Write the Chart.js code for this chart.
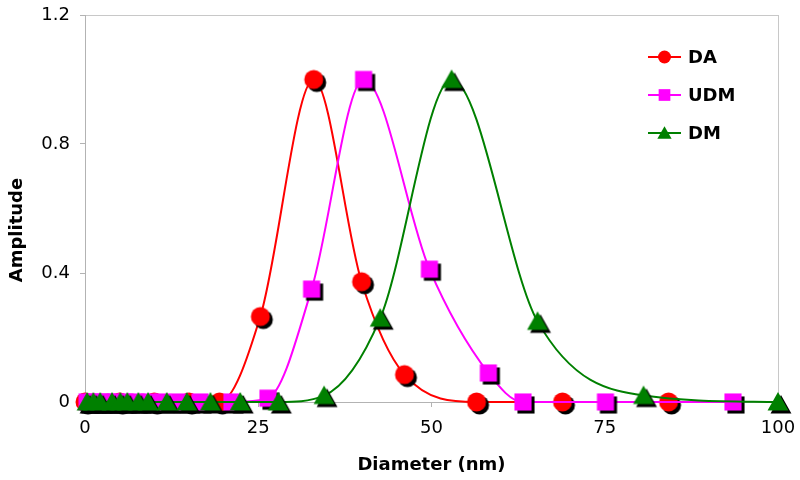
<!DOCTYPE html>
<html>
<head>
<meta charset="utf-8">
<script src="https://cdn.jsdelivr.net/npm/chart.js@4/dist/chart.umd.min.js"></script>
<style>
    html, body { margin: 0; padding: 0; background: #fff; }
    #wrap { width: 800px; height: 480px; }
</style>
</head>
<body>
<div id="wrap"><canvas id="sizeChart" width="800" height="480"></canvas></div>
<script>
// diameters (nm) and amplitudes
const diaDA = [0, 5, 10, 15, 19.4, 25.3, 33.0, 39.9, 46.1, 56.5, 68.9, 84.2];
const ampDA = [0, 0, 0, 0, 0, 0.265, 1.0, 0.373, 0.085, 0, 0, 0];

const diaUDM = [0.3, 1.2, 2.2, 3.2, 4.4, 5.8, 7.4, 9.2, 11.2, 13.6, 16.6, 21.2, 26.4, 32.7, 40.2, 49.7, 58.2, 63.2, 75.1, 93.5];
const ampUDM = [0, 0, 0, 0, 0, 0, 0, 0, 0, 0, 0, 0, 0.012, 0.35, 1.0, 0.412, 0.09, 0, 0, 0];

const diaDM = [0.3, 1.2, 2.2, 3.9, 5.1, 6.1, 7.7, 9.1, 11.8, 14.7, 18.1, 22.4, 27.9, 34.5, 42.6, 52.9, 65.3, 80.6, 100];
const ampDM = [0, 0, 0, 0, 0, 0, 0, 0, 0, 0, 0, 0, 0, 0.02, 0.26, 1.0, 0.25, 0.02, 0];

const xTicks = [0, 25, 50, 75, 100];
const yTicks = [0, 0.4, 0.8, 1.2];

const seriesNames = ['DA', 'UDM', 'DM'];
const seriesColors = ['#ff0000', '#ff00ff', '#008000'];
const seriesShapes = ['circle', 'rect', 'triangle'];

function toPoints(xs, ys) {
    return xs.map((x, i) => ({ x: x, y: ys[i] }));
}

function shapePath(ctx, shape, cx, cy, s) {
    ctx.beginPath();
    if (shape === 'circle') {
        ctx.arc(cx, cy, s, 0, Math.PI * 2);
    } else if (shape === 'rect') {
        ctx.rect(cx - s * 0.9, cy - s * 0.9, s * 1.8, s * 1.8);
    } else {
        ctx.moveTo(cx, cy - s * 1.05);
        ctx.lineTo(cx + s * 1.1, cy + s * 0.9);
        ctx.lineTo(cx - s * 1.1, cy + s * 0.9);
        ctx.closePath();
    }
}

// marker image with the black drop shadow
function makeMarker(shape, color) {
    const c = document.createElement('canvas');
    c.width = 30;
    c.height = 30;
    const g = c.getContext('2d');
    shapePath(g, shape, 18, 18, 9.5);
    g.fillStyle = '#000';
    g.fill();
    shapePath(g, shape, 15, 15, 9.5);
    g.fillStyle = color;
    g.fill();
    return c;
}

const legendPlugin = {
    id: 'sideLegend',
    afterDraw(chart) {
        const ctx = chart.ctx;
        const ys = [57, 95, 133];
        ctx.save();
        seriesNames.forEach((name, i) => {
            ctx.strokeStyle = seriesColors[i];
            ctx.lineWidth = 2;
            ctx.beginPath();
            ctx.moveTo(648, ys[i]);
            ctx.lineTo(681, ys[i]);
            ctx.stroke();
            shapePath(ctx, seriesShapes[i], 664.5, ys[i], 6.5);
            ctx.fillStyle = seriesColors[i];
            ctx.fill();
            ctx.fillStyle = '#000';
            ctx.font = 'bold 18px "DejaVu Sans"';
            ctx.textAlign = 'left';
            ctx.textBaseline = 'middle';
            ctx.fillText(name, 688, ys[i] + 1);
        });
        // y axis title
        ctx.translate(17, 230);
        ctx.rotate(-Math.PI / 2);
        ctx.textAlign = 'center';
        ctx.fillText('Amplitude', 0, 0);
        ctx.restore();
    }
};

const ctx = document.getElementById('sizeChart').getContext('2d');
const allX = [diaDA, diaUDM, diaDM];
const allY = [ampDA, ampUDM, ampDM];

const sizeChart = new Chart(ctx, {
    type: 'line',
    data: {
        datasets: seriesNames.map((name, i) => ({
            label: name,
            data: toPoints(allX[i], allY[i]),
            borderColor: seriesColors[i],
            backgroundColor: seriesColors[i],
            borderWidth: 2,
            cubicInterpolationMode: 'monotone',
            pointStyle: makeMarker(seriesShapes[i], seriesColors[i]),
            order: 3 - i,
            clip: false
        }))
    },
    options: {
        responsive: false,
        animation: false,
        events: [],
        layout: { padding: { top: 15, right: 22, left: 0, bottom: 0 } },
        plugins: {
            legend: { display: false },
            tooltip: { enabled: false }
        },
        scales: {
            x: {
                type: 'linear',
                min: 0,
                max: 100,
                afterFit: (scale) => {
                    scale.height = 78;
                    scale.paddingLeft = 0;
                    scale.paddingRight = 0;
                },
                afterBuildTicks: (scale) => { scale.ticks = xTicks.map(v => ({ value: v })); },
                border: { color: '#b3b3b3', width: 1 },
                grid: {
                    color: (c) => (c.tick && c.tick.value === 100 ? '#c8c8c8' : 'rgba(0,0,0,0)'),
                    tickColor: '#b3b3b3',
                    tickLength: 5
                },
                ticks: {
                    color: '#000',
                    font: { family: 'DejaVu Sans', size: 18 },
                    padding: 11,
                    maxRotation: 0
                },
                title: {
                    display: true,
                    text: 'Diameter (nm)',
                    color: '#000',
                    font: { family: 'DejaVu Sans', size: 18, weight: 'bold' },
                    padding: { top: 0, bottom: 4 }
                }
            },
            y: {
                type: 'linear',
                min: 0,
                max: 1.2,
                afterFit: (scale) => {
                    scale.width = 85;
                    scale.paddingTop = 0;
                    scale.paddingBottom = 0;
                },
                afterBuildTicks: (scale) => { scale.ticks = yTicks.map(v => ({ value: v })); },
                border: { color: '#b3b3b3', width: 1 },
                grid: {
                    color: (c) => (c.tick && c.tick.value === 1.2 ? '#c8c8c8' : 'rgba(0,0,0,0)'),
                    tickColor: '#b3b3b3',
                    tickLength: 5
                },
                ticks: {
                    color: '#000',
                    font: { family: 'DejaVu Sans', size: 18 },
                    padding: 10
                }
            }
        }
    },
    plugins: [legendPlugin]
});
</script>
</body>
</html>
